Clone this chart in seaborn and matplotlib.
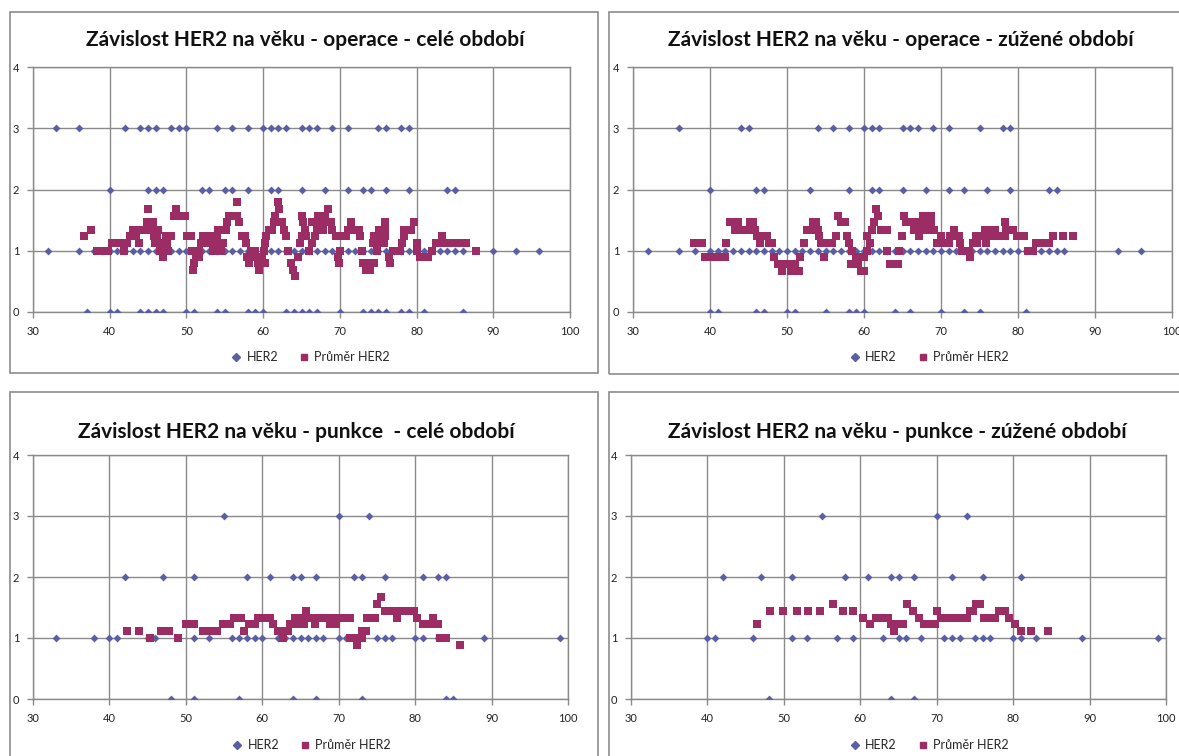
import numpy as np
import pandas as pd
import seaborn as sns
import matplotlib
matplotlib.use("Agg")
import matplotlib.pyplot as plt
from matplotlib.patches import Rectangle
from matplotlib.lines import Line2D

# ---------------- data ----------------
titles = [
    "Závislost HER2 na věku - operace - celé období",
    "Závislost HER2 na věku - operace - zúžené období",
    "Závislost HER2 na věku - punkce  - celé období",
    "Závislost HER2 na věku - punkce - zúžené období",
]
legend_labels = ["HER2", "Průměr HER2"]
x_ticks = [30, 40, 50, 60, 70, 80, 90, 100]
y_ticks = [0, 1, 2, 3, 4]

# Panel 1: operace - celé období (ages per HER2 level)
p1_her2_0 = [37, 40, 41, 44, 45, 46, 47, 50, 51, 54, 55, 58, 59, 60, 63, 64, 65, 66, 67, 70, 73, 74, 75, 76, 78, 79, 81, 86]
p1_her2_1 = [32, 36, 38, 39, 40, 41, 42, 43, 44, 45, 46, 47, 48, 49, 50, 51, 52, 53, 54, 55, 56, 57, 58, 59, 60, 61, 62, 63,
             64, 65, 66, 67, 68, 69, 70, 71, 72, 73, 74, 75, 76, 77, 78, 79, 80, 81, 82, 83, 84, 85, 86, 90, 93, 96]
p1_her2_2 = [40, 45, 46, 47, 52, 53, 55, 56, 58, 61, 62, 65, 68, 71, 73, 74, 76, 79, 84, 85]
p1_her2_3 = [33, 36, 42, 44, 45, 46, 48, 49, 50, 54, 56, 58, 60, 61, 62, 63, 65, 66, 67, 69, 71, 75, 76, 78, 79]
p1_avg_age = [36.6, 37.5, 38.3, 38.8, 39.3, 39.8, 40.3, 40.8, 41.3, 41.9, 42.3, 42.7, 43.1, 43.4, 43.8, 44.0, 44.4, 44.8, 45.0, 45.3,
              45.6, 45.8, 46.2, 45.9, 46.4, 46.9, 46.3, 46.6, 47.1, 47.6, 46.95, 47.3, 47.5, 48.0, 48.4, 48.9, 49.4, 49.8, 48.7, 50.1,
              50.6, 50.7, 51.0, 50.8, 51.3, 51.7, 51.7, 51.9, 52.4, 52.9, 52.1, 53.0, 53.5, 54.0, 53.2, 53.7, 53.5, 54.0, 54.5, 54.1,
              54.8, 55.1, 55.3, 55.6, 56.1, 56.6, 56.6, 56.9, 57.2, 57.7, 57.8, 58.4, 58.9, 57.9, 58.4, 58.9, 59.4, 59.9, 58.1, 59.4,
              59.3, 59.8, 60.2, 60.1, 60.3, 60.4, 60.7, 61.1, 61.4, 61.5, 62.1, 62.0, 62.4, 62.7, 63.0, 63.3, 63.6, 63.9, 64.2, 64.6,
              64.8, 65.0, 65.1, 65.2, 65.4, 65.6, 66.0, 66.4, 66.4, 66.9, 67.4, 67.8, 66.8, 67.0, 67.2, 67.6, 68.1, 68.5, 67.8, 68.8,
              69.0, 69.5, 69.7, 69.9, 70.0, 70.3, 70.8, 71.0, 71.5, 72.0, 72.5, 71.5, 72.6, 72.9, 73.0, 73.5, 74.0, 74.4, 73.4, 73.9,
              74.3, 74.8, 75.3, 75.8, 74.5, 75.0, 75.5, 75.9, 74.8, 75.1, 75.5, 75.9, 75.9, 76.4, 76.6, 76.9, 77.4, 77.9, 78.1, 78.3,
              78.4, 78.9, 79.3, 79.6, 80.0, 80.0, 80.5, 81.0, 81.5, 82.0, 82.5, 83.0, 83.3, 83.8, 84.3, 84.8, 85.4, 86.4, 87.7]
p1_avg_val = [1.24, 1.34, 1.0, 1.0, 1.0, 1.0, 1.13, 1.13, 1.13, 1.0, 1.13, 1.24, 1.34, 1.24, 1.13, 1.34, 1.34, 1.47, 1.68, 1.34,
              1.47, 1.24, 1.24, 1.13, 1.13, 1.13, 1.34, 1.0, 1.0, 1.0, 0.9, 1.24, 1.13, 1.24, 1.57, 1.57, 1.57, 1.57, 1.68, 1.24,
              1.24, 1.0, 0.8, 0.68, 0.9, 0.9, 1.0, 1.13, 1.13, 1.13, 1.24, 1.24, 1.24, 1.24, 1.13, 1.13, 1.0, 1.0, 1.0, 1.34,
              1.13, 1.34, 1.47, 1.57, 1.57, 1.57, 1.80, 1.47, 1.24, 1.24, 1.13, 1.0, 1.0, 0.9, 0.9, 0.9, 0.9, 0.9, 0.8, 0.68,
              0.8, 0.8, 0.8, 1.0, 1.13, 1.24, 1.34, 1.34, 1.47, 1.57, 1.68, 1.80, 1.47, 1.34, 1.24, 1.0, 0.8, 0.68, 0.58, 0.9,
              1.13, 1.24, 1.57, 1.47, 1.34, 1.24, 1.0, 1.13, 1.47, 1.47, 1.47, 1.47, 1.24, 1.34, 1.57, 1.57, 1.57, 1.68, 1.34, 1.47,
              1.34, 1.24, 0.9, 0.8, 1.0, 1.24, 1.24, 1.34, 1.34, 1.34, 1.34, 1.47, 1.24, 1.0, 0.8, 0.8, 0.8, 0.8, 0.68, 0.68,
              1.13, 1.13, 1.13, 1.13, 1.24, 1.24, 1.24, 1.24, 1.0, 1.34, 1.34, 1.34, 1.47, 0.9, 0.8, 1.0, 1.0, 1.0, 1.13, 1.24,
              1.34, 1.34, 1.34, 1.47, 1.13, 1.0, 0.9, 0.9, 0.9, 1.0, 1.13, 1.13, 1.24, 1.13, 1.13, 1.13, 1.13, 1.13, 1.0]

# Panel 2: operace - zúžené období
p2_her2_0 = [40, 41, 46, 47, 50, 51, 55, 58, 59, 60, 64, 66, 70, 73, 75, 81]
p2_her2_1 = [32, 36, 38, 40, 41, 42, 43, 44, 45, 46, 47, 48, 49, 50, 51, 52, 53, 54, 55, 56, 57, 58, 59, 60, 61, 62, 63,
             64, 65, 66, 67, 68, 69, 70, 71, 72, 73, 74, 75, 76, 77, 78, 79, 80, 81, 82, 83, 84, 85, 86, 93, 96]
p2_her2_2 = [40, 46, 47, 53, 58, 61, 62, 65, 68, 71, 73, 76, 79, 84, 85]
p2_her2_3 = [36, 44, 45, 54, 56, 58, 60, 61, 62, 65, 66, 67, 69, 71, 75, 78, 79]
p2_avg_age = [37.9, 39.0, 39.4, 39.9, 40.4, 40.9, 41.4, 41.9, 42.1, 42.6, 43.3, 43.7, 44.0, 44.5, 45.0, 45.2, 45.6, 45.9, 46.1, 46.6,
              47.0, 47.4, 46.5, 47.6, 48.1, 48.3, 48.8, 49.3, 49.6, 50.1, 50.6, 51.1, 50.5, 51.0, 51.5, 51.7, 52.2, 52.6, 53.1, 53.4,
              53.8, 54.0, 54.1, 54.4, 54.9, 55.4, 55.9, 54.8, 56.3, 56.6, 57.0, 57.5, 57.8, 58.0, 58.3, 58.5, 58.9, 59.2, 59.6, 60.0,
              60.0, 60.4, 60.4, 60.8, 61.1, 61.3, 61.5, 61.8, 62.2, 62.6, 63.0, 63.05, 63.4, 63.9, 64.4, 64.6, 64.9, 65.2, 65.4, 65.9,
              66.4, 66.9, 67.4, 67.8, 66.5, 67.0, 67.5, 68.0, 67.2, 67.7, 68.2, 68.7, 68.7, 69.1, 70.0, 69.5, 70.0, 70.6, 71.1, 71.2,
              71.7, 72.3, 71.7, 72.5, 72.7, 73.2, 73.6, 73.8, 74.2, 74.7, 74.5, 75.0, 75.5, 75.7, 75.9, 76.3, 76.5, 77.0, 77.3, 77.8,
              78.3, 78.3, 78.4, 78.9, 79.4, 79.9, 80.4, 80.8, 81.3, 81.9, 82.3, 82.8, 83.4, 84.0, 84.6, 85.8, 87.2]
p2_avg_val = [1.13, 1.13, 0.9, 0.9, 0.9, 0.9, 0.9, 0.9, 1.13, 1.47, 1.34, 1.47, 1.34, 1.34, 1.34, 1.47, 1.47, 1.34, 1.24, 1.24,
              1.24, 1.24, 1.13, 1.13, 1.13, 0.9, 0.79, 0.67, 0.79, 0.79, 0.79, 0.79, 0.67, 0.67, 0.67, 0.9, 1.13, 1.34, 1.34, 1.47,
              1.47, 1.34, 1.24, 1.13, 1.13, 1.13, 1.13, 0.9, 1.24, 1.57, 1.47, 1.47, 1.24, 1.13, 0.79, 1.0, 0.9, 0.79, 0.67, 0.67,
              0.9, 1.0, 1.24, 1.13, 1.34, 1.47, 1.68, 1.57, 1.34, 1.34, 1.34, 1.0, 0.79, 0.79, 0.79, 1.0, 1.24, 1.57, 1.47, 1.47,
              1.47, 1.47, 1.47, 1.47, 1.34, 1.34, 1.34, 1.34, 1.24, 1.57, 1.57, 1.57, 1.47, 1.34, 1.24, 1.13, 1.13, 1.13, 1.13, 1.24,
              1.24, 1.24, 1.34, 1.13, 1.0, 1.0, 1.0, 0.9, 1.13, 1.13, 1.24, 1.24, 1.24, 1.34, 1.13, 1.24, 1.34, 1.34, 1.24, 1.24,
              1.24, 1.47, 1.34, 1.34, 1.34, 1.24, 1.24, 1.24, 1.0, 1.0, 1.13, 1.13, 1.13, 1.13, 1.24, 1.24, 1.24]

# Panel 3: punkce - celé období
p3_her2_0 = [48, 51, 57, 64, 67, 73, 84, 85]
p3_her2_1 = [33, 38, 40, 41, 45, 46, 49, 51, 53, 56, 57, 58, 59, 60, 62, 63, 64, 65, 66, 67, 68, 70, 71, 72, 73, 75, 76, 77,
             80, 81, 83, 89, 99]
p3_her2_2 = [42, 47, 51, 58, 61, 64, 65, 67, 72, 73, 76, 81, 83, 84]
p3_her2_3 = [55, 70, 74]
p3_avg_age = [42.3, 43.9, 45.3, 46.7, 47.8, 49.0, 50.0, 51.1, 52.2, 53.2, 54.05, 54.8, 55.4, 55.8, 56.3, 56.8, 57.2, 57.6, 58.2, 58.7,
              59.06, 59.4, 59.9, 60.4, 61.0, 61.4, 62.0, 62.7, 62.9, 63.4, 63.6, 64.1, 64.5, 64.3, 64.8, 65.4, 65.7, 65.5, 66.2, 66.9,
              67.3, 67.8, 68.3, 68.8, 68.8, 69.3, 69.7, 69.9, 70.4, 70.9, 71.5, 71.5, 72.0, 72.5, 73.0, 72.35, 73.0, 73.6, 73.7, 74.2,
              74.7, 75.0, 75.5, 76.0, 76.5, 77.1, 77.6, 78.0, 78.5, 79.0, 79.5, 79.8, 80.2, 81.0, 81.5, 82.0, 82.5, 83.0, 82.4, 83.2,
              84.1, 85.9]
p3_avg_val = [1.12, 1.12, 1.0, 1.12, 1.12, 1.0, 1.23, 1.23, 1.12, 1.12, 1.12, 1.23, 1.23, 1.23, 1.33, 1.33, 1.33, 1.12, 1.23, 1.23,
              1.23, 1.33, 1.33, 1.33, 1.33, 1.23, 1.12, 1.0, 1.12, 1.12, 1.23, 1.23, 1.23, 1.33, 1.33, 1.33, 1.45, 1.23, 1.33, 1.23,
              1.33, 1.33, 1.33, 1.33, 1.23, 1.23, 1.23, 1.33, 1.33, 1.33, 1.33, 1.0, 1.0, 1.0, 1.0, 0.89, 1.12, 1.12, 1.33, 1.33,
              1.33, 1.56, 1.67, 1.45, 1.45, 1.45, 1.33, 1.45, 1.45, 1.45, 1.45, 1.45, 1.33, 1.23, 1.23, 1.23, 1.23, 1.23, 1.33, 1.0,
              1.0, 0.89]

# Panel 4: punkce - zúžené období
p4_her2_0 = [48, 64, 67]
p4_her2_1 = [40, 41, 46, 51, 53, 57, 59, 63, 65, 66, 68, 71, 72, 73, 75, 76, 77, 80, 81, 83, 89, 99]
p4_her2_2 = [42, 47, 51, 58, 61, 64, 65, 67, 72, 76, 81]
p4_her2_3 = [55, 70, 74]
p4_avg_age = [46.5, 48.2, 49.9, 51.75, 53.2, 54.7, 56.4, 57.8, 59.1, 60.3, 61.3, 62.1, 62.6, 63.1, 63.6, 64.0, 64.4, 65.0, 65.6, 66.1,
              66.9, 67.7, 68.4, 68.9, 69.4, 69.8, 70.1, 70.6, 71.1, 71.6, 72.1, 72.6, 73.1, 73.5, 73.9, 74.3, 74.8, 75.1, 75.6, 76.2,
              76.9, 77.3, 77.6, 78.2, 78.6, 78.9, 79.5, 80.2, 81.0, 82.35, 84.6]
p4_avg_val = [1.23, 1.45, 1.45, 1.45, 1.45, 1.45, 1.56, 1.45, 1.45, 1.33, 1.23, 1.33, 1.33, 1.33, 1.33, 1.23, 1.12, 1.23, 1.23, 1.56,
              1.45, 1.33, 1.23, 1.23, 1.23, 1.23, 1.45, 1.33, 1.33, 1.33, 1.33, 1.33, 1.33, 1.33, 1.33, 1.45, 1.45, 1.56, 1.56, 1.33,
              1.33, 1.33, 1.33, 1.45, 1.45, 1.45, 1.33, 1.23, 1.12, 1.12, 1.12]

panels = [
    (p1_her2_0, p1_her2_1, p1_her2_2, p1_her2_3, p1_avg_age, p1_avg_val),
    (p2_her2_0, p2_her2_1, p2_her2_2, p2_her2_3, p2_avg_age, p2_avg_val),
    (p3_her2_0, p3_her2_1, p3_her2_2, p3_her2_3, p3_avg_age, p3_avg_val),
    (p4_her2_0, p4_her2_1, p4_her2_2, p4_her2_3, p4_avg_age, p4_avg_val),
]

# ---------------- style ----------------
sns.set_style("white")
plt.rcParams["font.family"] = ["Lato", "DejaVu Sans"]

W, H = 1179, 756
fig = plt.figure(figsize=(W / 100, H / 100), dpi=100)

BLUE = "#5a5fa3"
RED = "#9b2c64"
GRID = "#8a8a8a"
BORDER = "#8c8c8c"

# pixel geometry: (left, right, top, bottom) of plot area
axes_px = [
    (33, 570, 67, 312),
    (633, 1172, 67, 312),
    (33, 568, 455, 699),
    (631, 1166, 455, 699),
]
boxes_px = [
    (10, 598, 12, 373),
    (609, 1190, 12, 374),
    (10, 598, 392, 770),
    (609, 1190, 392, 770),
]
title_pos = [(305, 40), (901, 40), (296, 432), (897, 432)]
legend_pos = [(310, 357), (929, 357), (311, 745), (929, 745)]

for (bl, br, bt, bb) in boxes_px:
    fig.add_artist(Rectangle((bl / W, 1 - bb / H), (br - bl) / W, (bb - bt) / H,
                             transform=fig.transFigure, fill=False,
                             edgecolor=BORDER, linewidth=1.2))

for i, (l, r, t, b) in enumerate(axes_px):
    ax = fig.add_axes([l / W, 1 - b / H, (r - l) / W, (b - t) / H])
    h0, h1, h2, h3, aa, av = panels[i]
    df_her2 = pd.DataFrame({
        "age": list(h0) + list(h1) + list(h2) + list(h3),
        "her2": [0] * len(h0) + [1] * len(h1) + [2] * len(h2) + [3] * len(h3),
    })
    df_avg = pd.DataFrame({"age": aa, "val": av})
    sns.scatterplot(data=df_her2, x="age", y="her2", marker="D", s=16, color=BLUE,
                    linewidth=0, ax=ax, legend=False, zorder=3)
    sns.scatterplot(data=df_avg, x="age", y="val", marker="s", s=28, color=RED,
                    linewidth=0, ax=ax, legend=False, zorder=4)
    ax.set_xlim(30, 100)
    ax.set_ylim(0, 4)
    ax.set_xticks(x_ticks)
    ax.set_yticks(y_ticks)
    ax.grid(True, color=GRID, linewidth=1)
    ax.set_axisbelow(True)
    for sp in ax.spines.values():
        sp.set_color(GRID)
        sp.set_linewidth(1)
    ax.tick_params(axis="both", which="both", length=4, width=1, color=GRID,
                   labelsize=8, pad=6, direction="out", labelcolor="#222222")
    ax.tick_params(left=True, bottom=True)
    ax.set_xlabel("")
    ax.set_ylabel("")

    tx, ty = title_pos[i]
    fig.text(tx / W, 1 - ty / H, titles[i], ha="center", va="center",
             fontsize=15, fontweight="bold", color="#111111")

    handles = [
        Line2D([], [], linestyle="none", marker="D", markersize=4, color=BLUE),
        Line2D([], [], linestyle="none", marker="s", markersize=5, color=RED),
    ]
    lx, ly = legend_pos[i]
    fig.legend(handles, legend_labels, loc="center", bbox_to_anchor=(lx / W, 1 - ly / H),
               ncol=2, frameon=False, fontsize=9, handletextpad=0.3, columnspacing=1.6,
               handlelength=1.0)

fig.savefig("out.png", dpi=100)
